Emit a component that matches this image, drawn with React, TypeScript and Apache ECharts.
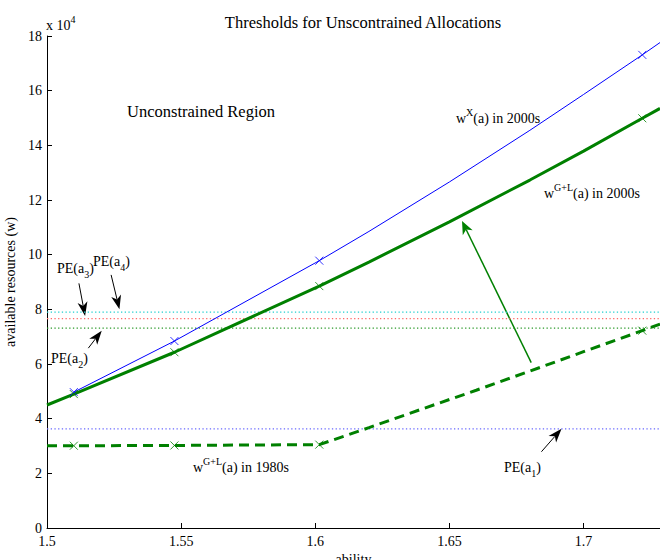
import React, { useEffect, useRef } from "react";
import * as echarts from "echarts";

// ---- data (ability on x, available resources w on y) ----
const xTicks = [1.5, 1.55, 1.6, 1.65, 1.7];
const abilityGL2000 = [1.5, 1.51, 1.5475, 1.6015, 1.62, 1.65, 1.68, 1.7, 1.7219, 1.7285];
const wGL2000 = [45000, 49000, 64300, 88500, 97300, 112000, 127300, 137900, 149900, 153500];
const abilityX2000 = [1.51, 1.5475, 1.6015, 1.62, 1.65, 1.68, 1.7, 1.7219, 1.7285];
const wX2000 = [49700, 68400, 97800, 108500, 126600, 145500, 158600, 173100, 177600];
const abilityGL1980 = [1.5, 1.51, 1.5475, 1.6015, 1.62, 1.64, 1.66, 1.68, 1.7, 1.7219, 1.7285];
const wGL1980 = [30100, 30100, 30200, 30500, 36700, 43600, 50400, 57400, 64500, 72200, 74600];
const markerAbility = [1.51, 1.5475, 1.6015, 1.7219];
const markerWX2000 = [49700, 68400, 97800, 173100];
const markerWGL2000 = [49000, 64300, 88500, 149900];
const markerWGL1980 = [30100, 30200, 30500, 72200];
const peNames = ["PE(a1)", "PE(a2)", "PE(a3)", "PE(a4)"];
const peLevels = [36300, 73100, 76600, 79000];
const peArrowTail = [[1.6843, 27900], [1.5154, 65800], [1.5119, 89500], [1.5239, 92600]];
const peArrowTip = [[1.6918, 36300], [1.5204, 72200], [1.5142, 77600], [1.527, 80000]];
const shiftArrowTail = [1.6805, 60500];
const shiftArrowTip = [1.6547, 112300];
const xRange = [1.5, 1.7285];

// ---- styles ----
const FONT = "'Liberation Serif', 'Times New Roman', serif";
const GREEN = "#008000";
const BLUE = "#0000ff";
const peColors = ["#6a6aff", "#2a9a2a", "#ff6a6a", "#22d0d0"];
const X_SYMBOL = "path://M0 0L10 10M10 0L0 10";

const zip = (xs: number[], ys: number[]) => xs.map((x, i) => [x, ys[i]]);

const rich = {
  b: { fontSize: 14, lineHeight: 22, verticalAlign: "middle", fontFamily: FONT, fill: "#000" },
  sup: { fontSize: 10, lineHeight: 10, verticalAlign: "top", fontFamily: FONT, fill: "#000" },
  sub: { fontSize: 10, lineHeight: 10, verticalAlign: "bottom", fontFamily: FONT, fill: "#000" },
};

function textEl(text: string, x: number, y: number, extra: any = {}) {
  return {
    type: "text",
    x,
    y,
    silent: true,
    style: { text, rich, fontFamily: FONT, fontSize: 14, fill: "#000", align: "left", verticalAlign: "middle", ...extra },
  };
}

function arrowEls(tail: number[], tip: number[], color: string, lw: number, L: number, W: number) {
  const dx = tip[0] - tail[0];
  const dy = tip[1] - tail[1];
  const len = Math.sqrt(dx * dx + dy * dy) || 1;
  const ux = dx / len, uy = dy / len;
  const nx = -uy, ny = ux;
  const bx = tip[0] - L * ux, by = tip[1] - L * uy;
  const notchx = tip[0] - 0.72 * L * ux, notchy = tip[1] - 0.72 * L * uy;
  return [
    { type: "line", silent: true, shape: { x1: tail[0], y1: tail[1], x2: notchx, y2: notchy }, style: { stroke: color, lineWidth: lw } },
    {
      type: "polygon",
      silent: true,
      shape: { points: [[tip[0], tip[1]], [bx + W * nx, by + W * ny], [notchx, notchy], [bx - W * nx, by - W * ny]] },
      style: { fill: color },
    },
  ];
}

export default function App() {
  const ref = useRef<HTMLDivElement>(null);
  useEffect(() => {
    document.body.style.margin = "0";
    if (!ref.current) return;
    const chart = echarts.init(ref.current, undefined, { renderer: "svg" });
    const markerSeries = (vals: number[], color: string) => ({
      type: "scatter",
      data: zip(markerAbility, vals),
      symbol: X_SYMBOL,
      symbolSize: 8,
      itemStyle: { color: "none", borderColor: color, borderWidth: 1 },
      z: 5,
      silent: true,
    });
    const option: any = {
      animation: false,
      title: {
        text: "Thresholds for Unscontrained Allocations",
        left: 358,
        top: 9,
        textAlign: "center",
        textStyle: { fontFamily: FONT, fontSize: 16.5, fontWeight: "normal", color: "#000" },
      },
      grid: { left: 47, right: 0, top: 36, bottom: 32, containLabel: false, outerBoundsMode: "none" },
      xAxis: {
        type: "value",
        min: xRange[0],
        max: xRange[1],
        interval: 0.05,
        name: "ability",
        nameLocation: "middle",
        nameGap: 23,
        nameTextStyle: { fontFamily: FONT, fontSize: 14, color: "#000" },
        axisLine: { lineStyle: { color: "#000", width: 1 } },
        axisTick: { inside: true, length: 5, lineStyle: { color: "#000" } },
        axisLabel: {
          fontFamily: FONT,
          fontSize: 14,
          color: "#000",
          margin: 6,
          showMaxLabel: false,
          formatter: (v: number) => {
            const t = xTicks.find((k) => Math.abs(k - v) < 1e-6);
            return t === undefined ? "" : String(t);
          },
        },
        splitLine: { show: false },
      },
      yAxis: {
        type: "value",
        min: 0,
        max: 180000,
        interval: 20000,
        name: "available resources (w)",
        nameLocation: "middle",
        nameGap: 24,
        nameTextStyle: { fontFamily: FONT, fontSize: 14, color: "#000" },
        axisLine: { show: true, lineStyle: { color: "#000", width: 1 } },
        axisTick: { show: true, inside: true, length: 5, lineStyle: { color: "#000" } },
        axisLabel: { fontFamily: FONT, fontSize: 14, color: "#000", margin: 5, formatter: (v: number) => String(v / 10000) },
        splitLine: { show: false },
      },
      series: [
        ...peLevels.map((lv, i) => ({
          type: "line",
          name: peNames[i],
          data: [[xRange[0], lv], [xRange[1], lv]],
          symbol: "none",
          lineStyle: { color: peColors[i], width: 1.3, type: [1.3, 2.4] },
          z: 1,
          silent: true,
        })),
        {
          type: "line",
          name: "wG+L(a) in 1980s",
          data: zip(abilityGL1980, wGL1980),
          symbol: "none",
          lineStyle: { color: GREEN, width: 3, type: [10, 6] },
          z: 3,
          silent: true,
        },
        {
          type: "line",
          name: "wG+L(a) in 2000s",
          data: zip(abilityGL2000, wGL2000),
          symbol: "none",
          lineStyle: { color: GREEN, width: 3 },
          z: 3,
          silent: true,
        },
        {
          type: "line",
          name: "wX(a) in 2000s",
          data: zip(abilityX2000, wX2000),
          symbol: "none",
          lineStyle: { color: BLUE, width: 1 },
          z: 4,
          silent: true,
        },
        markerSeries(markerWX2000, BLUE),
        markerSeries(markerWGL2000, GREEN),
        markerSeries(markerWGL1980, GREEN),
      ],
    };
    chart.setOption(option);

    const px = (p: number[]) => chart.convertToPixel({ gridIndex: 0 }, p) as number[];
    const graphics: any[] = [];
    peArrowTail.forEach((t, i) => {
      graphics.push(...arrowEls(px(t), px(peArrowTip[i]), "#000", 1, 14, 5));
    });
    graphics.push(...arrowEls(px(shiftArrowTail), px(shiftArrowTip), GREEN, 1.5, 13, 5.5));
    graphics.push(
      textEl("Unconstrained Region", 127, 111, { fontSize: 16.5 }),
      textEl("{b|x 10}{sup|4}", 46, 25),
      textEl("{b|w}{sup|X}{b|(a) in 2000s}", 456, 118),
      textEl("{b|w}{sup|G+L}{b|(a) in 2000s}", 544, 193),
      textEl("{b|w}{sup|G+L}{b|(a) in 1980s}", 193, 467),
      textEl("{b|PE(a}{sub|1}{b|)}", 504, 467),
      textEl("{b|PE(a}{sub|2}{b|)}", 51, 358),
      textEl("{b|PE(a}{sub|3}{b|)}", 57, 268),
      textEl("{b|PE(a}{sub|4}{b|)}", 93, 261)
    );
    chart.setOption({ graphic: graphics });
    return () => chart.dispose();
  }, []);
  return <div ref={ref} style={{ width: 660, height: 560 }} />;
}
